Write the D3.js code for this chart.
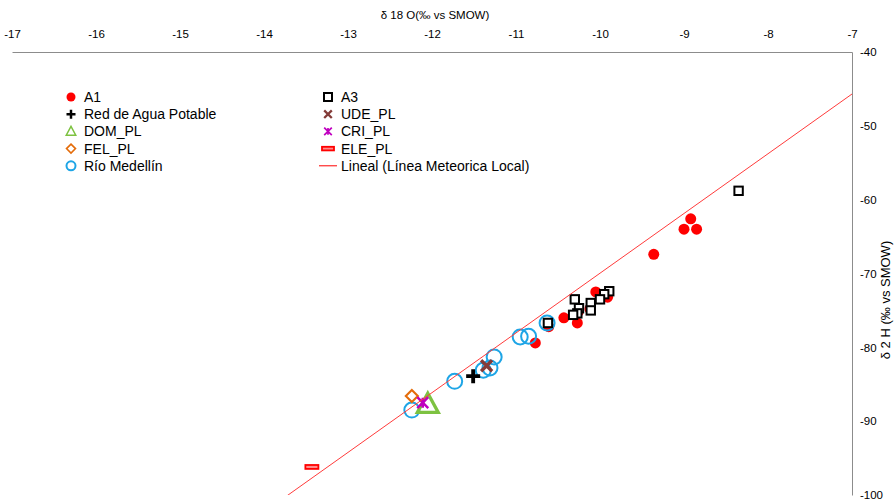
<!DOCTYPE html>
<html>
<head>
<meta charset="utf-8">
<script src="https://cdn.jsdelivr.net/npm/d3@7"></script>
<style>
  html, body { margin: 0; padding: 0; background: #fff; }
  svg { display: block; }
  .tick text { font-family: "Liberation Sans Narrow", "Arial Narrow", "Liberation Sans", Arial, sans-serif; font-size: 11.5px; fill: #000; }
  .legend text { font-family: "Liberation Sans", Arial, sans-serif; font-size: 14px; fill: #000; }
</style>
</head>
<body>
<svg id="chart" width="896" height="500"></svg>
<script>
// δ18O / δ2H samples, one array per series: [δ18O, δ2H]
const a1 = [
  [-8.92, -62.6], [-9.00, -64.0], [-8.85, -64.0], [-9.36, -67.4],
  [-10.05, -72.5], [-9.91, -73.2], [-10.12, -74.8], [-10.26, -75.2],
  [-10.43, -76.0], [-10.27, -76.7], [-10.61, -77.2], [-10.77, -79.4]
];
const a3 = [
  [-8.35, -58.8], [-9.89, -72.4], [-9.95, -72.8], [-10.00, -73.5],
  [-10.11, -74.0], [-10.11, -75.0], [-10.30, -73.5], [-10.25, -74.7],
  [-10.27, -75.4], [-10.32, -75.6], [-10.62, -76.7]
];
const redAguaPotable = [[-11.51, -83.9]];
const udePl = [[-11.35, -82.5]];
const domPl = [[-12.05, -87.7]];
const criPl = [[-12.11, -87.5]];
const felPl = [[-12.24, -86.6]];
const elePl = [[-13.43, -96.2]];
const rioMedellin = [
  [-12.24, -88.5], [-11.73, -84.6], [-11.39, -83.1], [-11.31, -82.8],
  [-11.26, -81.3], [-10.95, -78.6], [-10.85, -78.5], [-10.63, -76.7]
];
// Local meteoric water line: δ2H = slope · δ18O + intercept
const lmlSlope = 8.09;
const lmlIntercept = 10.94;

const xTicks = [-17, -16, -15, -14, -13, -12, -11, -10, -9, -8, -7];
const yTicks = [-40, -50, -60, -70, -80, -90, -100];
const xTitle = "δ 18 O(‰  vs SMOW)";
const yTitle = "δ 2 H (‰ vs SMOW)";

const svg = d3.select("#chart");
const plot = { left: 12, right: 852, top: 52, bottom: 495 };

const x = d3.scaleLinear().domain([-17, -7]).range([plot.left, plot.right]);
const y = d3.scaleLinear().domain([-40, -100]).range([plot.top, plot.bottom]);
const plainNumber = d => String(d);

svg.append("defs").append("clipPath").attr("id", "plotClip")
  .append("rect")
  .attr("x", plot.left).attr("y", plot.top)
  .attr("width", plot.right - plot.left).attr("height", plot.bottom - plot.top);

// Axes: top (δ18O) and right (δ2H)
const xAxis = svg.append("g")
  .attr("transform", `translate(0,${plot.top})`)
  .call(d3.axisTop(x).tickValues(xTicks).tickSize(0).tickSizeOuter(0).tickPadding(14).tickFormat(plainNumber));
xAxis.select(".domain").attr("stroke", "#8c8c8c");

const yAxis = svg.append("g")
  .attr("transform", `translate(${plot.right},0)`)
  .call(d3.axisRight(y).tickValues(yTicks).tickSize(0).tickSizeOuter(0).tickPadding(8).tickFormat(plainNumber));
yAxis.select(".domain").attr("stroke", "#8c8c8c");

svg.append("text")
  .attr("x", 435).attr("y", 19)
  .attr("text-anchor", "middle")
  .style("font-family", "'Liberation Sans Narrow', 'Arial Narrow', 'Liberation Sans', sans-serif")
  .style("font-size", "11.5px")
  .text(xTitle);

svg.append("text")
  .attr("transform", "translate(890,300) rotate(-90)")
  .attr("text-anchor", "middle")
  .style("font-family", "'Liberation Sans', Arial, sans-serif")
  .style("font-size", "13px")
  .text(yTitle);

// Marker painters
const markers = {
  dot: (g, s) => g.append("circle").attr("r", s).attr("fill", "#ff0000"),
  square: (g, s) => g.append("rect").attr("x", -s).attr("y", -s).attr("width", 2 * s).attr("height", 2 * s)
    .attr("fill", "#fff").attr("stroke", "#000").attr("stroke-width", 2),
  plus: (g, s) => g.append("path").attr("d", `M${-s},0H${s}M0,${-s}V${s}`)
    .attr("stroke", "#000").attr("stroke-width", s * 0.55).attr("fill", "none"),
  cross: (g, s) => g.append("path").attr("d", `M${-s},${-s}L${s},${s}M${-s},${s}L${s},${-s}`)
    .attr("stroke", "#843c39").attr("stroke-width", s * 0.6).attr("fill", "none"),
  triangle: (g, s) => g.append("path").attr("d", `M0,${-s}L${s * 0.95},${s * 0.75}L${-s * 0.95},${s * 0.75}Z`)
    .attr("fill", "none").attr("stroke", "#7dc241").attr("stroke-width", s * 0.3).attr("stroke-linejoin", "miter"),
  star: (g, s) => g.append("path").attr("d", `M${-s},${-s}L${s},${s}M${-s},${s}L${s},${-s}M0,${-s * 0.9}V${s * 0.9}`)
    .attr("stroke", "#c000c0").attr("stroke-width", s * 0.45).attr("fill", "none"),
  diamond: (g, s) => g.append("path").attr("d", `M0,${-s}L${s},0L0,${s}L${-s},0Z`)
    .attr("fill", "#fff").attr("stroke", "#e46c0a").attr("stroke-width", s * 0.35),
  dash: (g, s) => g.append("rect").attr("x", -s).attr("y", -s * 0.3).attr("width", 2 * s).attr("height", s * 0.6)
    .attr("fill", "#ff8c8c").attr("stroke", "#ff0000").attr("stroke-width", 1.8),
  ring: (g, s) => g.append("circle").attr("r", s).attr("fill", "none")
    .attr("stroke", "#1ea5e6").attr("stroke-width", 2)
};

const series = [
  { name: "A1", data: a1, shape: "dot", size: 5.5, legendSize: 4.5, col: 0, row: 0 },
  { name: "Río Medellín", data: rioMedellin, shape: "ring", size: 7.5, legendSize: 4.5, col: 0, row: 4 },
  { name: "A3", data: a3, shape: "square", size: 4.2, legendSize: 4, col: 1, row: 0 },
  { name: "Red de Agua Potable", data: redAguaPotable, shape: "plus", size: 7, legendSize: 4.5, col: 0, row: 1 },
  { name: "UDE_PL", data: udePl, shape: "cross", size: 5.5, legendSize: 3.8, col: 1, row: 1 },
  { name: "DOM_PL", data: domPl, shape: "triangle", size: 11, legendSize: 5, col: 0, row: 2 },
  { name: "FEL_PL", data: felPl, shape: "diamond", size: 6, legendSize: 4.5, col: 0, row: 3 },
  { name: "CRI_PL", data: criPl, shape: "star", size: 5.5, legendSize: 3.8, col: 1, row: 2 },
  { name: "ELE_PL", data: elePl, shape: "dash", size: 6.5, legendSize: 6, col: 1, row: 3 }
];

const marks = svg.append("g").attr("clip-path", "url(#plotClip)");
series.forEach(s => {
  marks.selectAll(null).data(s.data).enter().append("g")
    .attr("transform", d => `translate(${x(d[0])},${y(d[1])})`)
    .each(function () { markers[s.shape](d3.select(this), s.size); });
});

// Local meteoric water line across the plot
const lineX = x.domain();
marks.append("line")
  .attr("x1", x(lineX[0])).attr("y1", y(lmlSlope * lineX[0] + lmlIntercept))
  .attr("x2", x(lineX[1])).attr("y2", y(lmlSlope * lineX[1] + lmlIntercept))
  .attr("stroke", "#ff3b3b").attr("stroke-width", 1);

// Legend (two columns)
const legend = svg.append("g").attr("class", "legend");
const colX = [71, 328];
const rowY = r => 97 + r * 17.2;
series.forEach(s => {
  const g = legend.append("g").attr("transform", `translate(${colX[s.col]},${rowY(s.row)})`);
  markers[s.shape](g.append("g"), s.legendSize);
  g.append("text").attr("x", 13).attr("y", 5).text(s.name);
});
const lg = legend.append("g").attr("transform", `translate(${colX[1]},${rowY(4)})`);
lg.append("line").attr("x1", -9).attr("x2", 9).attr("stroke", "#ff0000").attr("stroke-width", 1);
lg.append("text").attr("x", 13).attr("y", 5).text("Lineal (Línea Meteorica Local)");
</script>
</body>
</html>
